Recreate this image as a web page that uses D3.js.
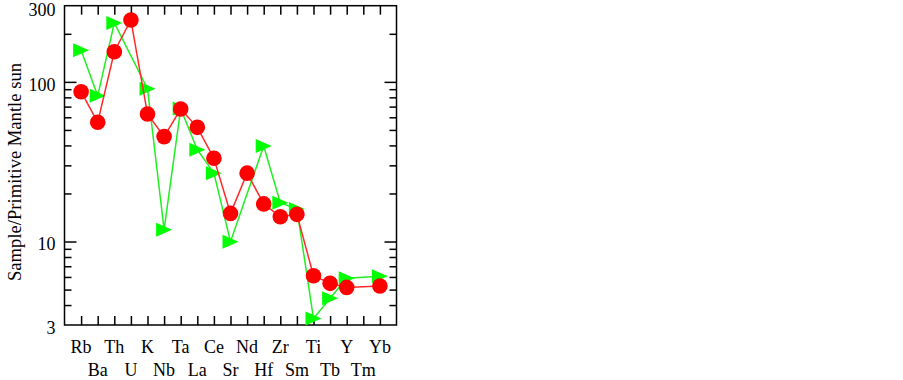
<!DOCTYPE html>
<html>
<script src="https://d3js.org/d3.v7.min.js"></script>

<head>
    <style>
        body {
            margin: 0;
            background-color: #ffffff;
        }

        svg {
            display: block;
            font-family: "Liberation Serif", "Times New Roman", serif;
        }
    </style>
</head>

<body>
</body>
<script>
    const width = 903,
        height = 380;
    const plotLeft = 64.5, plotRight = 396.5, plotTop = 5.7, plotBottom = 325;

    const elements = ["Rb", "Ba", "Th", "U", "K", "Nb", "Ta", "La", "Ce", "Sr",
        "Nd", "Hf", "Zr", "Sm", "Ti", "Tb", "Y", "Tm", "Yb"];

    // red circles (null = no value)
    const sampleA = [86.8, 55.8, 154.5, 244, 62.9, 45.4, 67.6, 51.9, 33.2, 15.0,
        26.8, 17.2, 14.3, 14.8, 6.11, 5.47, 5.16, null, 5.26];

    // green triangles
    const sampleB = [157.6, 81.8, 233.7, null, 90.6, 11.86, 68, 37.6, 26.8, 9.98,
        null, 39.7, 17.5, 16.0, 3.30, 4.41, 5.88, null, 6.06];

    const yLabelTicks = [3, 10, 100, 300];
    const majorTicks = [10, 100];
    const minorTicks = [4, 5, 6, 7, 8, 9, 20, 30, 40, 50, 60, 70, 80, 90, 200];

    const svg = d3.select("body").append("svg").attr("width", width).attr("height", height);

    const x = d3.scalePoint().domain(elements).range([plotLeft, plotRight]).padding(1);
    const y = d3.scaleLog().domain([3, 300]).range([plotBottom, plotTop]);

    function axisStyle(g) {
        g.select(".domain").remove();
        g.selectAll("line").attr("stroke", "black").attr("stroke-width", 1.5);
        g.selectAll("text").attr("fill", "black").attr("font-size", 18)
            .attr("font-family", "Liberation Serif, serif");
    }

    // y ticks, left and right
    svg.append("g").attr("transform", `translate(${plotLeft},0)`)
        .call(d3.axisRight(y).tickValues(majorTicks).tickSize(12).tickFormat(""))
        .call(axisStyle);
    svg.append("g").attr("transform", `translate(${plotLeft},0)`)
        .call(d3.axisRight(y).tickValues(minorTicks).tickSize(7).tickFormat(""))
        .call(axisStyle);
    svg.append("g").attr("transform", `translate(${plotRight},0)`)
        .call(d3.axisLeft(y).tickValues(majorTicks).tickSize(12).tickFormat(""))
        .call(axisStyle);
    svg.append("g").attr("transform", `translate(${plotRight},0)`)
        .call(d3.axisLeft(y).tickValues(minorTicks).tickSize(7).tickFormat(""))
        .call(axisStyle);
    svg.append("g").attr("transform", `translate(${plotLeft},0)`)
        .call(d3.axisLeft(y).tickValues(yLabelTicks).tickSize(0).tickPadding(9).tickFormat(d3.format("d")))
        .call(axisStyle)
        .selectAll("text")
        .attr("dy", d => d === 300 ? "0.56em" : "0.46em");

    // x ticks, top and bottom
    svg.append("g").attr("transform", `translate(0,${plotTop})`)
        .call(d3.axisBottom(x).tickSize(9).tickFormat(""))
        .call(axisStyle);
    svg.append("g").attr("transform", `translate(0,${plotBottom})`)
        .call(d3.axisTop(x).tickSize(9).tickFormat(""))
        .call(axisStyle);

    // category labels in two staggered rows
    svg.append("g")
        .selectAll("text")
        .data(elements)
        .enter()
        .append("text")
        .attr("x", d => x(d))
        .attr("y", (d, i) => i % 2 === 0 ? 353 : 376)
        .attr("text-anchor", "middle")
        .attr("font-size", 18)
        .text(d => d);

    // frame
    svg.append("rect")
        .attr("x", plotLeft).attr("y", plotTop)
        .attr("width", plotRight - plotLeft).attr("height", plotBottom - plotTop)
        .attr("fill", "none").attr("stroke", "black").attr("stroke-width", 1.5);

    // y title
    svg.append("text")
        .attr("transform", "translate(21,172) rotate(-90)")
        .attr("text-anchor", "middle")
        .attr("font-size", 18.6)
        .text("Sample/Primitive Mantle sun");

    const line = d3.line().x(d => x(d.el)).y(d => y(d.v));

    const triRight = {
        draw(ctx, size) {
            ctx.moveTo(-8, -7);
            ctx.lineTo(8, 0);
            ctx.lineTo(-8, 7);
            ctx.closePath();
        }
    };

    function drawSeries(values, color, lineColor, symbolType) {
        const pts = elements.map((el, i) => ({ el: el, v: values[i] })).filter(d => d.v != null);
        svg.append("path")
            .datum(pts)
            .attr("fill", "none")
            .attr("stroke", lineColor)
            .attr("stroke-width", 1.5)
            .attr("d", line);
        if (symbolType) {
            svg.append("g").selectAll("path")
                .data(pts)
                .enter()
                .append("path")
                .attr("transform", d => `translate(${x(d.el)},${y(d.v)})`)
                .attr("fill", color)
                .attr("d", d3.symbol().type(symbolType));
        } else {
            svg.append("g").selectAll("circle")
                .data(pts)
                .enter()
                .append("circle")
                .attr("cx", d => x(d.el))
                .attr("cy", d => y(d.v))
                .attr("r", 7.8)
                .attr("fill", color);
        }
    }

    drawSeries(sampleB, "#00ff00", "#22ee22", triRight);
    drawSeries(sampleA, "#ff0000", "#ff2a2a", null);
</script>

</html>
